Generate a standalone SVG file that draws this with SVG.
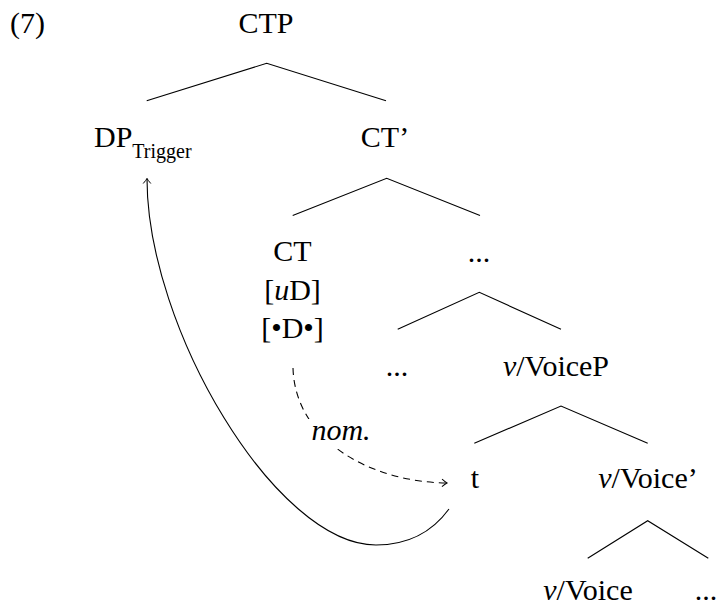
<svg xmlns="http://www.w3.org/2000/svg" width="718" height="608" viewBox="0 0 718 608">
<style>
.edge{fill:none;stroke:#000;stroke-width:1.1}
.dash{fill:none;stroke:#000;stroke-width:1.1;stroke-dasharray:7 5}
</style>
<defs>
<marker id="arr" viewBox="-6 -5 8 10" markerWidth="8" markerHeight="10" refX="0" refY="0" orient="auto" markerUnits="userSpaceOnUse">
<path d="M-5,-3.8 Q-1.5,-0.8 0,0 Q-1.5,0.8 -5,3.8" fill="none" stroke="#000" stroke-width="1"/>
</marker>
</defs>
<g id="tree-lines">
<polyline class="edge" points="146.7,100.7 266.7,63.3 386,100.7"/>
<polyline class="edge" points="292.7,215.5 386.7,178.3 480,215.5"/>
<polyline class="edge" points="397.7,329.3 479.3,292.3 561,329.3"/>
<polyline class="edge" points="474.3,443.3 561,406 647.7,443.3"/>
<polyline class="edge" points="587.7,558.3 647.7,520.7 708.3,558.3"/>
</g>
<g id="connectors">
<path class="edge" d="M449,509 C430,535 405,545 376,545 C276,545 147,328 147,178.5" marker-end="url(#arr)"/>
<path class="dash" d="M293,368 C295,440 370,482 447,483" marker-end="url(#arr)"/>
<rect x="304" y="419" width="74" height="30" fill="#fff"/>
</g>
<text x="10" y="33" font-family="Liberation Serif" font-size="30" style="font-family:'Liberation Serif',serif">(7)</text>
<g id="CTP"><text x="266" y="33" font-family="Liberation Serif" font-size="30" text-anchor="middle" style="font-family:'Liberation Serif',serif">CTP</text></g>
<g id="DP"><text x="94" y="147" font-family="Liberation Serif" font-size="30" style="font-family:'Liberation Serif',serif">DP<tspan font-size="20" dy="11">Trigger</tspan></text></g>
<g id="CTbar"><text x="385" y="147" font-family="Liberation Serif" font-size="30" text-anchor="middle" style="font-family:'Liberation Serif',serif">CT&#8217;</text></g>
<g id="CT">
<text x="292.5" y="261" font-family="Liberation Serif" font-size="30" text-anchor="middle" style="font-family:'Liberation Serif',serif">CT</text>
<text x="292.5" y="300" font-family="Liberation Serif" font-size="30" text-anchor="middle" style="font-family:'Liberation Serif',serif">[<tspan font-style="italic">u</tspan>D]</text>
<text x="292.5" y="338" font-family="Liberation Serif" font-size="30" text-anchor="middle" style="font-family:'Liberation Serif',serif">[&#8226;D&#8226;]</text>
</g>
<g id="dots1"><text x="479" y="262" font-family="Liberation Serif" font-size="30" text-anchor="middle" style="font-family:'Liberation Serif',serif">...</text></g>
<g id="dots2"><text x="397" y="376" font-family="Liberation Serif" font-size="30" text-anchor="middle" style="font-family:'Liberation Serif',serif">...</text></g>
<g id="vVoiceP"><text x="556" y="376" font-family="Liberation Serif" font-size="30" text-anchor="middle" style="font-family:'Liberation Serif',serif"><tspan font-style="italic">v</tspan>/VoiceP</text></g>
<g id="t"><text x="475" y="488" font-family="Liberation Serif" font-size="30" text-anchor="middle" style="font-family:'Liberation Serif',serif">t</text></g>
<g id="vVoiceBar"><text x="648" y="488" font-family="Liberation Serif" font-size="30" text-anchor="middle" style="font-family:'Liberation Serif',serif"><tspan font-style="italic">v</tspan>/Voice&#8217;</text></g>
<g id="vVoice"><text x="588" y="600" font-family="Liberation Serif" font-size="30" text-anchor="middle" style="font-family:'Liberation Serif',serif"><tspan font-style="italic">v</tspan>/Voice</text></g>
<g id="dots3"><text x="706" y="600" font-family="Liberation Serif" font-size="30" text-anchor="middle" style="font-family:'Liberation Serif',serif">...</text></g>
<text id="nom-label" x="341" y="440" font-family="Liberation Serif" font-size="30" font-style="italic" text-anchor="middle" style="font-family:'Liberation Serif',serif">nom.</text>
</svg>
